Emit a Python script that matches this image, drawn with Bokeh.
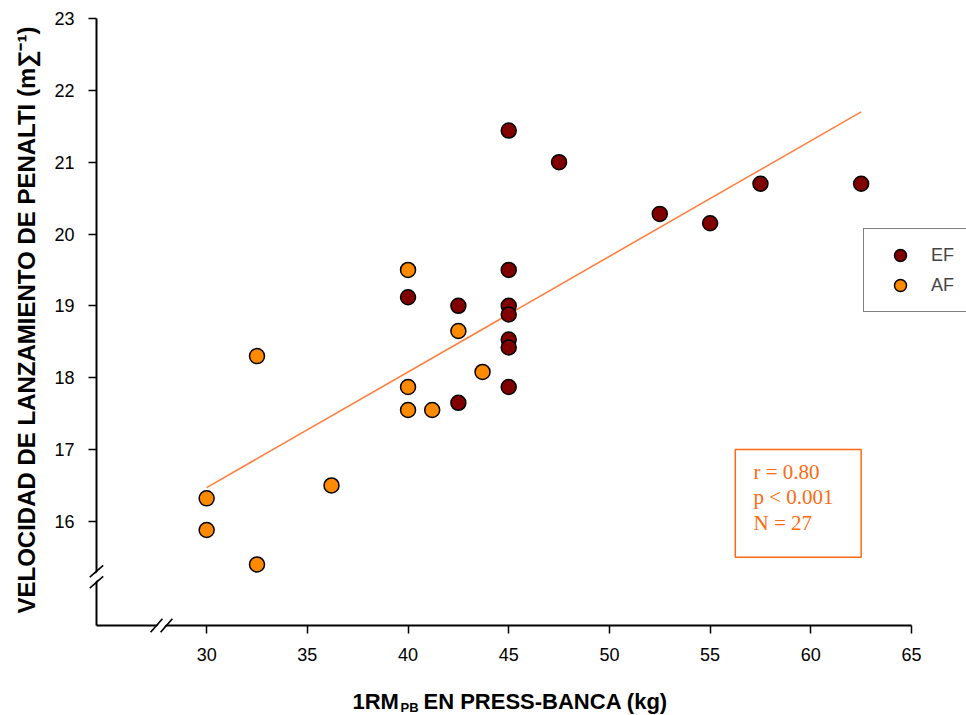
from math import pi

from bokeh.embed import file_html
from bokeh.models import Arrow, BoxAnnotation, FixedTicker, Label, Range1d
from bokeh.plotting import figure
from bokeh.resources import INLINE

# 1RM bench press (kg) and penalty throw velocity for each group
ef_rm = [45, 47.5, 52.5, 55, 57.5, 62.5, 45, 40, 42.5, 45, 45, 45, 45, 45, 42.5]
ef_vel = [21.44, 21.0, 20.28, 20.15, 20.7, 20.7, 19.5, 19.12, 19.0, 19.0, 18.88, 18.53, 18.42, 17.87, 17.65]

af_rm = [40, 42.5, 32.5, 43.7, 40, 40, 41.2, 36.2, 30, 30, 32.5]
af_vel = [19.5, 18.65, 18.3, 18.08, 17.87, 17.55, 17.55, 16.5, 16.32, 15.88, 15.4]

# regression line end points
fit_rm = [30, 62.5]
fit_vel = [16.47, 21.70]

stats_lines = ["r = 0.80", "p < 0.001", "N = 27"]
x_ticks = [30, 35, 40, 45, 50, 55, 60, 65]
y_ticks = [16, 17, 18, 19, 20, 21, 22, 23]

W, H = 966, 715
# axes box (canvas pixels) and the data values at its edges
AX_L, AX_R, AX_T, AX_B = 96, 911, 18, 625
XA0, XA1 = 24.53, 65.0
YA0, YA1 = 14.55, 23.0

# the plotting area spans the whole canvas; axes sit at fixed data positions
sx = (AX_R - AX_L) / (XA1 - XA0)
sy = (AX_B - AX_T) / (YA1 - YA0)
X0, X1 = XA0 - AX_L / sx, XA1 + (W - AX_R) / sx
Y0, Y1 = YA0 - (H - AX_B) / sy, YA1 + AX_T / sy


def dx(px):
    """canvas x pixel -> data x"""
    return X0 + px / sx


def dy(py):
    """canvas y pixel -> data y"""
    return Y1 - py / sy


p = figure(width=W, height=H, output_backend="svg", toolbar_location=None,
           x_range=Range1d(X0, X1), y_range=Range1d(Y0, Y1),
           min_border=0, min_border_left=0, min_border_right=0,
           min_border_top=0, min_border_bottom=0)
p.outline_line_color = None
p.xgrid.visible = False
p.ygrid.visible = False
p.background_fill_color = "white"

p.xaxis.fixed_location = YA0
p.yaxis.fixed_location = XA0
p.xaxis.bounds = (XA0, XA1)
p.yaxis.bounds = (YA0, YA1)

for ax in (p.xaxis[0], p.yaxis[0]):
    ax.axis_line_width = 2
    ax.axis_line_color = "black"
    ax.major_tick_line_width = 1.5
    ax.major_tick_out = 8
    ax.major_tick_in = 0
    ax.minor_tick_line_color = None
    ax.major_label_text_font = "Liberation Sans"
    ax.major_label_text_font_size = "18px"
    ax.major_label_text_color = "black"
    ax.major_label_standoff = 14

p.xaxis.ticker = FixedTicker(ticks=x_ticks)
p.yaxis.ticker = FixedTicker(ticks=y_ticks)

# regression line
p.line(fit_rm, fit_vel, line_color="#ff8040", line_width=1.6)

# points
p.scatter(ef_rm, ef_vel, size=15, fill_color="#800000", line_color="black",
          line_width=1.5, legend_label="EF")
p.scatter(af_rm, af_vel, size=15, fill_color="#ff8a00", line_color="black",
          line_width=1.5, legend_label="AF")

lg = p.legend[0]
lg.location = (863, H - 312)
lg.padding = 11
lg.margin = 0
lg.glyph_width = 50
lg.glyph_height = 30
lg.label_standoff = 6
lg.spacing = 0
lg.label_height = 20
lg.label_width = 60
lg.border_line_color = "black"
lg.border_line_width = 1
lg.label_text_font = "Liberation Sans"
lg.label_text_font_size = "18px"
lg.background_fill_alpha = 1.0

# statistics box
p.add_layout(BoxAnnotation(left=56.25, right=62.5, bottom=15.5, top=17.0,
                           fill_color=None, line_color="#ff6a10", line_alpha=1.0,
                           line_width=1.5))
for i, s in enumerate(stats_lines):
    p.add_layout(Label(x=dx(753), y=dy(471 + 25.5 * i), text=s, text_baseline="middle",
                       text_font="Liberation Serif", text_font_size="21px",
                       text_color="#ff6a10"))


# axis breaks: white gap plus two slashes
def axis_break(cx, cy, off_x, off_y, hx, hy, gap_w):
    p.add_layout(Arrow(x_start=dx(cx - hx * 0.6), y_start=dy(cy + hy * 0.6),
                       x_end=dx(cx + hx * 0.6), y_end=dy(cy - hy * 0.6), end=None,
                       line_color="white", line_width=gap_w, line_cap="butt"))
    for s in (-1, 1):
        ox, oy = cx + s * off_x, cy + s * off_y
        p.add_layout(Arrow(x_start=dx(ox - hx), y_start=dy(oy + hy),
                           x_end=dx(ox + hx), y_end=dy(oy - hy), end=None,
                           line_color="black", line_width=1.6))


axis_break(96, 576.3, 0, 5.5, 6.7, 5.9, 6)
axis_break(161, 625, 5, 0, 5.9, 6.7, 5.5)

# axis titles
p.add_layout(Label(x=dx(25.5), y=dy(613), angle=pi / 2,
                   text="VELOCIDAD DE LANZAMIENTO DE PENALTI (m\u2211\u207b\u00b9)",
                   text_baseline="alphabetic", text_align="left", text_font="Liberation Sans",
                   text_font_style="bold", text_font_size="24px", text_color="black"))
p.add_layout(Label(x=dx(352), y=dy(701), text="1RM", text_baseline="alphabetic",
                   text_font="Liberation Sans", text_font_style="bold", text_font_size="22px",
                   text_color="black"))
p.add_layout(Label(x=dx(400), y=dy(707), text="PB", text_baseline="alphabetic",
                   text_font="Liberation Sans", text_font_style="bold", text_font_size="13px",
                   text_color="black"))
p.add_layout(Label(x=dx(423), y=dy(701), text="EN PRESS-BANCA (kg)", text_baseline="alphabetic",
                   text_font="Liberation Sans", text_font_style="bold", text_font_size="22px",
                   text_color="black"))

open("out.html", "w").write(file_html(p, INLINE))
